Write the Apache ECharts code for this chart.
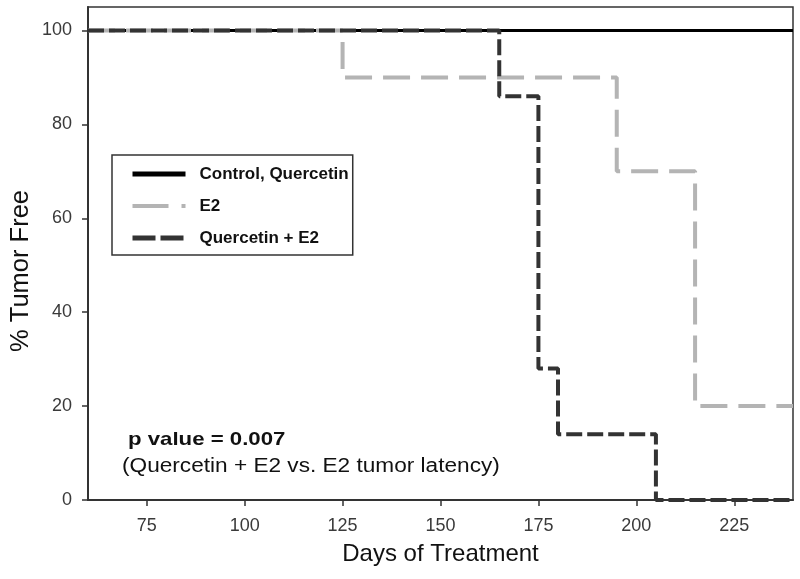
<!DOCTYPE html>
<html>
<head>
<meta charset="utf-8">
<script src="https://cdn.jsdelivr.net/npm/echarts@6/dist/echarts.min.js"></script>
<style>html,body{margin:0;padding:0;background:#fff}#chart{width:800px;height:579px}</style>
</head>
<body>
<div id="chart"></div>
<script>
// Data
var seriesNames = ['Control, Quercetin', 'E2', 'Quercetin + E2'];
var controlDays = [60, 240];
var controlVals = [100, 100];
var e2Days = [60, 125, 195, 215, 240];
var e2Vals = [100, 90, 70, 20, 20];
var qeDays = [60, 165, 175, 180, 205, 240];
var qeVals = [100, 86, 28, 14, 0, 0];
var xTicks = [75, 100, 125, 150, 175, 200, 225];
var yTicks = [0, 20, 40, 60, 80, 100];
var xTitle = 'Days of Treatment';
var yTitle = '% Tumor Free';
var note1 = 'p value = 0.007';
var note2 = '(Quercetin + E2 vs. E2 tumor latency)';

function pairs(xs, ys) { return xs.map(function (x, i) { return [x, ys[i]]; }); }

var FONT = '"Liberation Sans", Arial, sans-serif';
var chart = echarts.init(document.getElementById('chart'), null, { renderer: 'canvas' });
chart.setOption({
  animation: false,
  backgroundColor: '#fff',
  grid: { left: 88, right: 7, top: 7, bottom: 79, show: true, borderColor: '#333', borderWidth: 1.5, containLabel: false },
  xAxis: {
    type: 'value', min: 60, max: 240,
    name: xTitle, nameLocation: 'middle', nameGap: 42,
    nameTextStyle: { fontFamily: FONT, fontSize: 24, color: '#111' },
    axisLine: { show: true, onZero: false, lineStyle: { color: '#333', width: 2 } },
    axisTick: { show: true, length: 6, customValues: xTicks, lineStyle: { color: '#333', width: 1.5 } },
    axisLabel: { customValues: xTicks, fontFamily: FONT, fontSize: 18, color: '#3a3a3a', margin: 17 },
    splitLine: { show: false }
  },
  yAxis: {
    type: 'value', min: 0, max: 105,
    axisLine: { show: true, onZero: false, lineStyle: { color: '#333', width: 2 } },
    axisTick: { show: true, length: 6, customValues: yTicks, lineStyle: { color: '#333', width: 1.5 } },
    axisLabel: { customValues: yTicks, fontFamily: FONT, fontSize: 18, color: '#3a3a3a', margin: 16 },
    splitLine: { show: false }
  },
  legend: {
    orient: 'vertical', left: 112, top: 155,
    padding: [9, 4, 7, 18],
    borderColor: '#333', borderWidth: 1.5,
    itemWidth: 53, itemHeight: 14, itemGap: 12,
    itemStyle: { opacity: 0 },
    textStyle: { fontFamily: FONT, fontSize: 17, fontWeight: 'bold', color: '#111', lineHeight: 20, padding: [0, 0, 0, 9] },
    data: [
      { name: seriesNames[0], lineStyle: { color: '#000', width: 5, type: 'solid' } },
      { name: seriesNames[1], lineStyle: { color: '#b4b4b4', width: 4, type: [36, 13] } },
      { name: seriesNames[2], lineStyle: { color: '#333', width: 5, type: [23, 5] } }
    ]
  },
  graphic: [
    { type: 'text', left: 8, top: 190, rotation: Math.PI / 2, style: { text: yTitle, font: '25.5px ' + FONT, fill: '#111' }, silent: true },
    { type: 'text', x: 128, y: 430, scaleX: 1.2, style: { text: note1, font: 'bold 18.5px ' + FONT, fill: '#111' }, silent: true },
    { type: 'text', x: 122, y: 457, scaleX: 1.16, style: { text: note2, font: '19.5px ' + FONT, fill: '#111' }, silent: true }
  ],
  series: [
    { name: seriesNames[0], type: 'line', step: 'end', symbol: 'none', data: pairs(controlDays, controlVals),
      lineStyle: { color: '#000', width: 3, type: 'solid' }, itemStyle: { color: '#000' }, z: 2 },
    { name: seriesNames[1], type: 'line', step: 'end', symbol: 'none', data: pairs(e2Days, e2Vals),
      lineStyle: { color: '#b4b4b4', width: 4, type: [27, 11] }, itemStyle: { color: '#b4b4b4' }, z: 3 },
    { name: seriesNames[2], type: 'line', step: 'end', symbol: 'none', data: pairs(qeDays, qeVals),
      lineStyle: { color: '#333', width: 4, type: [16, 5] }, itemStyle: { color: '#333' }, z: 4 }
  ]
});
</script>
</body>
</html>
